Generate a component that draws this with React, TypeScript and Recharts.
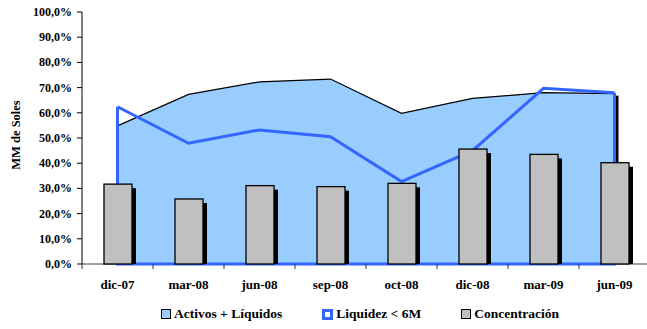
import React from 'react';
import {
  ComposedChart,
  Area,
  Bar,
  XAxis,
  YAxis,
  Legend,
} from 'recharts';

// Periods on the category axis
const categories = ['dic-07', 'mar-08', 'jun-08', 'sep-08', 'oct-08', 'dic-08', 'mar-09', 'jun-09'];
// Series values, in percent
const activos = [54.8, 67.3, 72.3, 73.4, 59.8, 65.7, 68.0, 67.6];
const liquidez = [62.4, 47.9, 53.2, 50.5, 32.7, 45.0, 69.7, 68.0];
const concentracion = [31.7, 25.8, 31.1, 30.7, 32.0, 45.6, 43.5, 40.2];
// Value axis ticks
const yTicks = [0, 10, 20, 30, 40, 50, 60, 70, 80, 90, 100];

const data = categories.map((c, i) => ({
  periodo: c,
  activos: activos[i],
  liquidez: liquidez[i],
  concentracion: concentracion[i],
}));

const FONT = '"Liberation Serif", "DejaVu Serif"';
const BLUE = '#3366FF';
const FILL = '#99CCFF';
const GREY = '#C0C0C0';

const fmtPct = (v: number) => `${v.toFixed(1).replace('.', ',')}%`;

// Pixel y of the zero baseline, solved from two plotted points of the series
const zeroPixel = (points: any[], key: string) => {
  for (let i = 0; i < points.length; i++) {
    for (let j = i + 1; j < points.length; j++) {
      const vi = points[i].payload[key];
      const vj = points[j].payload[key];
      if (vi !== vj) {
        return points[i].y - ((points[i].y - points[j].y) / (vi - vj)) * vi;
      }
    }
  }
  return points[0].y;
};

// Closes the outline of the blue series: both end verticals and the bottom edge
const makeOutlineDot = (key: string) => (p: any) => {
  const pts = p.points;
  const last = pts ? pts.length - 1 : -1;
  if (!pts || p.index !== last) return <g key={`o-${p.index}`} />;
  const y0 = zeroPixel(pts, key);
  const a = pts[0];
  const b = pts[last];
  return (
    <path
      key={`o-${p.index}`}
      d={`M${a.x},${a.y}L${a.x},${y0}L${b.x},${y0}L${b.x},${b.y}`}
      fill="none"
      stroke={BLUE}
      strokeWidth={3}
      strokeLinejoin="miter"
    />
  );
};

// Solid shadow strip along the right edge of the filled area
const makeEdgeShadowDot = (key: string) => (p: any) => {
  const pts = p.points;
  const last = pts ? pts.length - 1 : -1;
  if (!pts || p.index !== last) return <g key={`s-${p.index}`} />;
  const y0 = zeroPixel(pts, key);
  const b = pts[last];
  return <rect key={`s-${p.index}`} x={b.x} y={b.y + 2} width={4} height={y0 - b.y - 2} fill="#000" />;
};

// Bar with a solid drop shadow offset down and to the right
const ShadowBar = (props: any) => {
  const { x, y, width, height } = props;
  if (height == null || height <= 0) return null;
  const d = 4;
  return (
    <g>
      <rect x={x + d} y={y + d} width={width} height={Math.max(0, height - d)} fill="#000" />
      <rect x={x} y={y} width={width} height={height} fill={GREY} stroke="#000" strokeWidth={1.3} />
    </g>
  );
};

// Category label centred in its band, tick mark at the band's left edge
const CategoryTick = (props: any) => {
  const { x, y, payload, width, visibleTicksCount } = props;
  const half =
    payload && typeof payload.offset === 'number' && payload.offset > 0
      ? payload.offset
      : width / (visibleTicksCount || categories.length) / 2;
  return (
    <g>
      <line x1={x - half} y1={y} x2={x - half} y2={y + 5} stroke="#333" strokeWidth={1} />
      <text
        x={x}
        y={y + 25}
        textAnchor="middle"
        style={{ fontFamily: FONT, fontWeight: 700, fontSize: 13 }}
        fill="#000"
      >
        {payload.value}
      </text>
    </g>
  );
};

const ValueTick = (props: any) => {
  const { x, y, payload } = props;
  return (
    <text
      x={x}
      y={y}
      dy={4}
      textAnchor="end"
      style={{ fontFamily: FONT, fontWeight: 700, fontSize: 12 }}
      fill="#000"
    >
      {fmtPct(payload.value)}
    </text>
  );
};

const AxisTitle = (props: any) => {
  const { viewBox } = props;
  const cx = viewBox.x + 16;
  const cy = viewBox.y + viewBox.height / 2 - 3;
  return (
    <text
      x={cx}
      y={cy}
      transform={`rotate(-90 ${cx} ${cy})`}
      textAnchor="middle"
      dominantBaseline="central"
      style={{ fontFamily: FONT, fontWeight: 700, fontSize: 12.5 }}
      fill="#000"
    >
      MM de Soles
    </text>
  );
};

const legendItems = [
  { label: 'Activos + Líquidos', kind: 'activos' },
  { label: 'Liquidez < 6M', kind: 'liquidez' },
  { label: 'Concentración', kind: 'concentracion' },
];

const LegendIcon = ({ kind }: { kind: string }) => {
  if (kind === 'liquidez') {
    return (
      <span
        style={{
          display: 'inline-block',
          width: 5,
          height: 5,
          border: `3px solid ${BLUE}`,
          background: '#fff',
          marginRight: 3,
        }}
      />
    );
  }
  return (
    <span
      style={{
        display: 'inline-block',
        width: 8,
        height: 8,
        border: '1.5px solid #000',
        background: kind === 'activos' ? FILL : GREY,
        marginRight: 3,
      }}
    />
  );
};

const LegendContent = () => (
  <div
    style={{
      display: 'flex',
      alignItems: 'center',
      gap: 40,
      fontFamily: FONT,
      fontWeight: 700,
      fontSize: 13.5,
      color: '#000',
      whiteSpace: 'nowrap',
    }}
  >
    {legendItems.map((it) => (
      <span key={it.kind} style={{ display: 'inline-flex', alignItems: 'center' }}>
        <LegendIcon kind={it.kind} />
        {it.label}
      </span>
    ))}
  </div>
);

export default function App() {
  return (
    <div style={{ position: 'absolute', left: 0, top: 0, width: 647, height: 329, overflow: 'hidden', background: '#fff' }}>
      <ComposedChart
        width={650}
        height={329}
        data={data}
        margin={{ top: 12, right: 0, bottom: 35, left: 0 }}
      >
        <XAxis
          dataKey="periodo"
          height={30}
          tickLine={false}
          tickSize={0}
          tickMargin={0}
          axisLine={{ stroke: '#808080', strokeWidth: 1.5 }}
          tick={<CategoryTick />}
          interval={0}
        />
        <YAxis
          width={82}
          domain={[0, 100]}
          ticks={yTicks}
          interval={0}
          tickSize={5}
          tickMargin={5}
          tickLine={{ stroke: '#000' }}
          axisLine={{ stroke: '#000' }}
          tick={<ValueTick />}
          label={<AxisTitle />}
        />
        <Area
          type="linear"
          dataKey="activos"
          name="Activos + Líquidos"
          fill={FILL}
          fillOpacity={1}
          stroke="#000"
          strokeWidth={1.2}
          isAnimationActive={false}
          dot={makeEdgeShadowDot('activos')}
          activeDot={false}
        />
        <Area
          type="linear"
          dataKey="liquidez"
          name="Liquidez < 6M"
          fill="none"
          stroke={BLUE}
          strokeWidth={3}
          isAnimationActive={false}
          dot={makeOutlineDot('liquidez')}
          activeDot={false}
        />
        <Bar
          dataKey="concentracion"
          name="Concentración"
          barSize={28}
          shape={<ShadowBar />}
          isAnimationActive={false}
          zIndex={3000}
        />
        <Legend
          layout="horizontal"
          verticalAlign="middle"
          align="center"
          content={<LegendContent />}
          wrapperStyle={{ position: 'absolute', left: 161, top: 306, width: 'auto', height: 20 }}
        />
      </ComposedChart>
    </div>
  );
}
